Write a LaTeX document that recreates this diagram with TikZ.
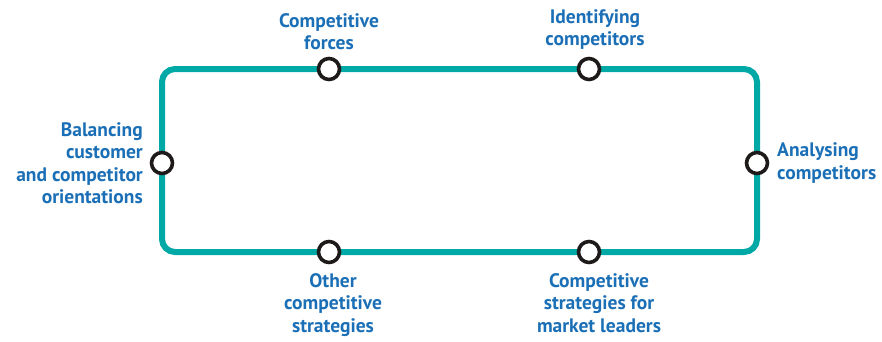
\documentclass[tikz,border=0pt]{standalone}
\usepackage{fontspec}
\setmainfont{PT Sans}
\definecolor{teal1}{HTML}{00A9A6}
\definecolor{blue1}{HTML}{1B6FB6}
\definecolor{ring}{HTML}{1E1A1A}
\begin{document}
\begin{tikzpicture}[x=1pt,y=-1pt,
  lbl/.style={text=blue1,font=\fontsize{19.5}{22.5}\selectfont\bfseries,inner sep=0pt,align=center},
  stop/.style={circle,draw=ring,line width=3.6pt,fill=white,minimum size=21pt,inner sep=0pt}]
\useasboundingbox (0,0) rectangle (882,341);
\draw[teal1,line width=6pt,rounded corners=13pt] (162,69) rectangle (757,252);
\node[stop] (s1) at (329,69) {};
\node[stop] (s2) at (589,69) {};
\node[stop] (s3) at (757,163) {};
\node[stop] (s4) at (589,252) {};
\node[stop] (s5) at (329,252) {};
\node[stop] (s6) at (162,163) {};
\node[lbl,anchor=south] (l1) at (329,50) {Competitive\\forces};
\node[lbl,anchor=south] (l2) at (595,50) {Identifying\\competitors};
\node[lbl,anchor=west,align=left] (l3) at (777,163) {Analysing\\competitors};
\node[lbl,anchor=north] (l4) at (599,273) {Competitive\\strategies for\\market leaders};
\node[lbl,anchor=north] (l5) at (333,273) {Other\\competitive\\strategies};
\node[lbl,anchor=east,align=right] (l6) at (143,163) {Balancing\\customer\\and competitor\\orientations};
\end{tikzpicture}
\end{document}
